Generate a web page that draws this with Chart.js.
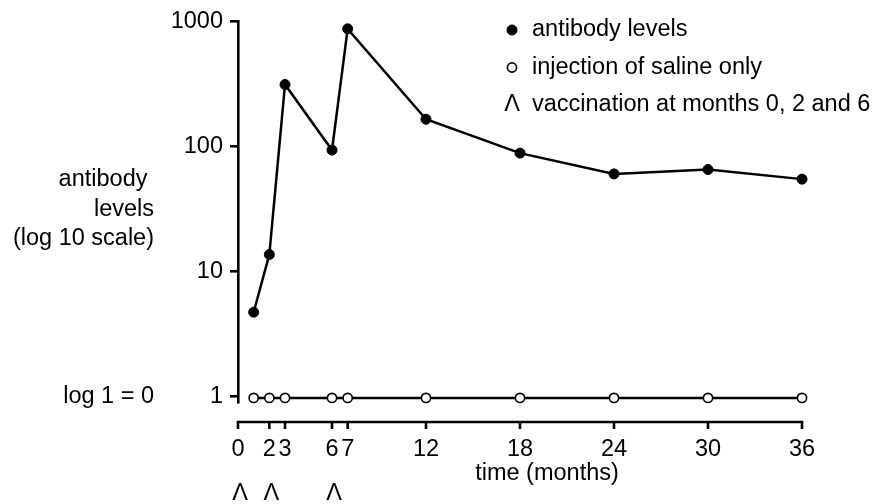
<!DOCTYPE html>
<html>
<head>
<meta charset="utf-8">
<title>Antibody levels after vaccination</title>
<script src="https://cdn.jsdelivr.net/npm/chart.js@4.4.1/dist/chart.umd.min.js"></script>
<style>
  html, body { margin: 0; padding: 0; background: #fff; }
  #wrap { width: 879px; height: 504px; }
</style>
</head>
<body>
<div id="wrap"><canvas id="chart"></canvas></div>
<script>
// ---- data ----
const months = [1, 2, 3, 6, 7, 12, 18, 24, 30, 36];
const antibodyLevels = [4.7, 13.6, 311, 93, 867, 164, 88, 60, 65, 54.5];
const salineLevels = [0.97, 0.97, 0.97, 0.97, 0.97, 0.97, 0.97, 0.97, 0.97, 0.97];
const vaccinationMonths = [0, 2, 6];
const xTicks = [0, 2, 3, 6, 7, 12, 18, 24, 30, 36];
const yTicks = [1, 10, 100, 1000];
const yTitleLines = ['antibody ', 'levels', '(log 10 scale)'];
const legendLabels = ['antibody levels', 'injection of saline only', 'vaccination at months 0, 2 and 6'];

const FONT = '"Liberation Sans", Arial, Helvetica, sans-serif';
const FS = 23.5;
const INK = '#000';

// axes, titles, carets and legend drawn by hand (offset axis style)
const annotations = {
  id: 'annotations',
  afterDraw(chart) {
    const { ctx, chartArea, scales: { x, y } } = chart;
    ctx.save();
    ctx.fillStyle = INK;
    ctx.strokeStyle = INK;
    ctx.font = `${FS}px ${FONT}`;
    ctx.textBaseline = 'middle';

    // x axis sits below the plot, detached from the y axis
    const axisY = chartArea.bottom + 20;
    ctx.lineWidth = 2.6;
    ctx.beginPath();
    ctx.moveTo(x.getPixelForValue(x.min) - 1.3, axisY);
    ctx.lineTo(x.getPixelForValue(x.max) + 1.3, axisY);
    xTicks.forEach(v => {
      const px = x.getPixelForValue(v);
      ctx.moveTo(px, axisY);
      ctx.lineTo(px, axisY + 7);
    });
    ctx.stroke();

    // x title
    ctx.textAlign = 'center';
    ctx.fillText('time (months)', 547, 474);

    // vaccination marks under the axis
    vaccinationMonths.forEach(m => {
      ctx.fillText('Λ', x.getPixelForValue(m) + 2, 494);
    });

    // y title, right aligned, horizontal
    ctx.textAlign = 'right';
    yTitleLines.forEach((line, i) => ctx.fillText(line, 154, 180 + i * 29.3));
    ctx.fillText('log 1 = 0', 154, y.getPixelForValue(1));

    // legend
    const lx = 512, tx = 532;
    legendLabels.forEach((label, i) => {
      const ly = 30 + i * 37.5;
      if (i < 2) {
        const ds = chart.data.datasets[i];
        ctx.beginPath();
        ctx.arc(lx, ly, ds.pointRadius, 0, Math.PI * 2);
        ctx.fillStyle = ds.pointBackgroundColor;
        ctx.fill();
        ctx.lineWidth = ds.pointBorderWidth;
        ctx.strokeStyle = ds.pointBorderColor;
        ctx.stroke();
        ctx.fillStyle = INK;
      } else {
        ctx.textAlign = 'center';
        ctx.fillText('Λ', lx, ly);
      }
      ctx.textAlign = 'left';
      ctx.fillText(label, tx, ly);
    });
    ctx.restore();
  }
};

const ctx = document.getElementById('chart').getContext('2d');
new Chart(ctx, {
  type: 'line',
  data: {
    datasets: [{
      label: legendLabels[0],
      data: months.map((m, i) => ({ x: m, y: antibodyLevels[i] })),
      borderColor: INK,
      borderWidth: 2.5,
      pointRadius: 5,
      pointBackgroundColor: INK,
      pointBorderColor: INK,
      pointBorderWidth: 1,
      clip: false
    }, {
      label: legendLabels[1],
      data: months.map((m, i) => ({ x: m, y: salineLevels[i] })),
      borderColor: INK,
      borderWidth: 2.5,
      pointRadius: 4.6,
      pointBackgroundColor: '#fff',
      pointBorderColor: INK,
      pointBorderWidth: 1.6,
      clip: false
    }]
  },
  options: {
    responsive: true,
    maintainAspectRatio: false,
    devicePixelRatio: 1,
    animation: false,
    layout: { padding: { left: 0, right: 77, top: 19, bottom: 0 } },
    plugins: {
      legend: { display: false },
      tooltip: { enabled: false }
    },
    scales: {
      x: {
        type: 'linear',
        min: 0,
        max: 36,
        afterBuildTicks: s => { s.ticks = xTicks.map(v => ({ value: v })); },
        afterFit: s => { s.height = 102; },
        grid: { display: false },
        border: { display: false },
        ticks: {
          autoSkip: false,
          maxRotation: 0,
          minRotation: 0,
          padding: 25,
          color: INK,
          font: { family: FONT, size: FS }
        }
      },
      y: {
        type: 'logarithmic',
        min: 0.9,
        max: 1000,
        afterBuildTicks: s => { s.ticks = yTicks.map(v => ({ value: v })); },
        afterFit: s => { s.width = 238; },
        grid: {
          drawOnChartArea: false,
          drawTicks: true,
          tickLength: 8,
          color: INK,
          lineWidth: 2.6
        },
        border: { display: true, color: INK, width: 2.6 },
        ticks: {
          padding: 7,
          color: INK,
          font: { family: FONT, size: FS },
          callback: v => String(v)
        }
      }
    }
  },
  plugins: [annotations]
});
</script>
</body>
</html>
